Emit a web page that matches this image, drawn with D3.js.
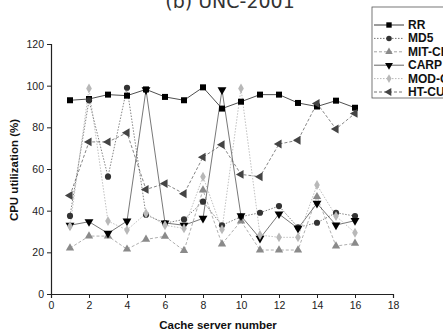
<!DOCTYPE html>
<html>
<head>
<meta charset="utf-8">
<script src="https://cdn.jsdelivr.net/npm/d3@7"></script>
<style>
  html, body { margin: 0; padding: 0; background: #fff; overflow: hidden; }
  svg { display: block; }
  .tick text { font-family: "Liberation Sans", Arial, sans-serif; font-size: 10.5px; fill: #222; }
</style>
</head>
<body>
<script>
// Cache server numbers on the x axis
const servers = [1, 2, 3, 4, 5, 6, 7, 8, 9, 10, 11, 12, 13, 14, 15, 16];

// CPU utilization (%) per server, one array per scheme
const rr     = [93, 93.6, 95.7, 95.2, 98.2, 94.6, 93, 99.2, 89, 92.3, 95.7, 95.7, 91.7, 90, 92.8, 89.4];
const md5    = [37.5, 93, 56.3, 99, 38, 34, 35.8, 44.3, 33, 37.1, 39, 42.2, 32, 34.2, 39, 37.4];
const mitCh  = [22, 27.8, 27.8, 21.5, 26.2, 27.7, 20.8, 49.9, 24, 35, 21.1, 21.1, 21.1, 46.7, 23, 24.3];
const carp   = [33, 34.7, 29.1, 35, 98, 34.1, 33, 36.3, 98, 37.5, 26.7, 38.4, 31.5, 43.5, 33.1, 35.2];
const modCup = [32.5, 98.7, 35, 30.7, 38.7, 33, 31.5, 56.3, 31, 98.7, 28.3, 27.2, 27.2, 52.3, 37.4, 29.4];
const htCup  = [47.3, 73, 73, 77.4, 50.2, 53, 48.1, 65.7, 71.7, 57.4, 56.3, 72, 73.8, 91.5, 79.2, 86.7];

const seriesNames = ["RR", "MD5", "MIT-CHORD", "CARP", "MOD-CUP", "HT-CUP"];

const xTicks = [0, 2, 4, 6, 8, 10, 12, 14, 16, 18];
const yTicks = [0, 20, 40, 60, 80, 100, 120];

const W = 443, H = 335;
const margin = { left: 51, top: 44, right: 50, bottom: 41 };

const svg = d3.select("body").append("svg").attr("width", W).attr("height", H);

const x = d3.scaleLinear().domain([0, 18]).range([margin.left, 393]);
const y = d3.scaleLinear().domain([0, 120]).range([294, margin.top]);

// Series styling
const styles = [
  { values: rr,     stroke: "#222", dash: null,  sym: d3.symbolSquare,   size: 36, rot: 0,   fill: "#000" },
  { values: md5,    stroke: "#666", dash: "1.5,1.5", sym: d3.symbolCircle, size: 30, rot: 0, fill: "#333" },
  { values: mitCh,  stroke: "#9a9a9a", dash: "3,2", sym: d3.symbolTriangle, size: 30, rot: 0, fill: "#8a8a8a" },
  { values: carp,   stroke: "#555", dash: null,  sym: d3.symbolTriangle, size: 34, rot: 180, fill: "#000" },
  { values: modCup, stroke: "#b0b0b0", dash: "1.5,1.5", sym: d3.symbolDiamond, size: 28, rot: 0, fill: "#b8b8b8" },
  { values: htCup,  stroke: "#666", dash: "3,2", sym: d3.symbolTriangle, size: 34, rot: -90, fill: "#444" }
];

// Title (sits partly above the top edge)
svg.append("text")
  .attr("x", 230).attr("y", 8)
  .attr("text-anchor", "middle")
  .style("font-family", "'DejaVu Sans', sans-serif")
  .style("font-size", "19px")
  .style("fill", "#333")
  .text("(b) UNC-2001");

// Axes
const xAxis = d3.axisBottom(x).tickValues(xTicks).tickSize(4).tickPadding(4).tickFormat(d3.format("d"));
const yAxis = d3.axisLeft(y).tickValues(yTicks).tickSize(4).tickPadding(3).tickFormat(d3.format("d"));

const gx = svg.append("g").attr("transform", "translate(0,294)").call(xAxis);
const gy = svg.append("g").attr("transform", `translate(${margin.left},0)`).call(yAxis);
[gx, gy].forEach(g => {
  g.select(".domain").attr("stroke", "#222").attr("stroke-width", 1.2);
  g.selectAll(".tick line").attr("stroke", "#222");
});
gx.selectAll(".tick").filter(d => d === 0).select("line").remove();

// Axis titles
svg.append("text")
  .attr("x", 218).attr("y", 329)
  .attr("text-anchor", "middle")
  .style("font-family", "'Liberation Sans', Arial, sans-serif")
  .style("font-weight", "bold").style("font-size", "11.5px")
  .style("fill", "#111")
  .text("Cache server number");

svg.append("text")
  .attr("transform", "translate(18,170) rotate(-90)")
  .attr("text-anchor", "middle")
  .style("font-family", "'Liberation Sans', Arial, sans-serif")
  .style("font-weight", "bold").style("font-size", "11.5px")
  .style("fill", "#111")
  .text("CPU utilization (%)");

// Lines and markers
const line = d3.line().x((d, i) => x(servers[i])).y(d => y(d));

styles.forEach(s => {
  svg.append("path")
    .datum(s.values)
    .attr("d", line)
    .attr("fill", "none")
    .attr("stroke", s.stroke)
    .attr("stroke-width", 0.8)
    .attr("stroke-dasharray", s.dash);
});

styles.forEach(s => {
  svg.append("g").selectAll("path")
    .data(s.values)
    .join("path")
    .attr("d", d3.symbol().type(s.sym).size(s.size))
    .attr("transform", (d, i) => `translate(${x(servers[i])},${y(d)}) rotate(${s.rot})`)
    .attr("fill", s.fill);
});

// Legend
const lg = svg.append("g");
lg.append("rect")
  .attr("x", 372).attr("y", 7).attr("width", 120).attr("height", 91)
  .attr("fill", "#fff").attr("stroke", "#555").attr("stroke-width", 0.8);

styles.forEach((s, i) => {
  const ly = 25 + i * 13.4;
  lg.append("line")
    .attr("x1", 374).attr("x2", 404).attr("y1", ly).attr("y2", ly)
    .attr("stroke", s.stroke).attr("stroke-width", 0.9)
    .attr("stroke-dasharray", s.dash);
  lg.append("path")
    .attr("d", d3.symbol().type(s.sym).size(s.size * 0.8))
    .attr("transform", `translate(389,${ly}) rotate(${s.rot})`)
    .attr("fill", s.fill);
  lg.append("text")
    .attr("x", 408).attr("y", ly + 4)
    .style("font-family", "'Liberation Sans', Arial, sans-serif")
    .style("font-weight", "bold").style("font-size", "12px")
    .style("fill", "#111")
    .text(seriesNames[i]);
});
</script>
</body>
</html>
